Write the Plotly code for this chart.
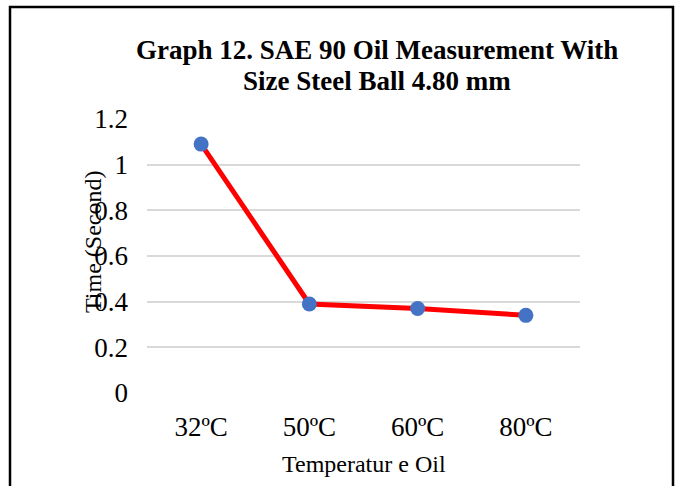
import plotly.graph_objects as go

categories = ["32ºC", "50ºC", "60ºC", "80ºC"]
times = [1.09, 0.39, 0.37, 0.34]
y_ticks = [0, 0.2, 0.4, 0.6, 0.8, 1.0, 1.2]
y_tick_labels = ["0", "0.2", "0.4", "0.6", "0.8", "1", "1.2"]
title_lines = ["Graph 12. SAE 90 Oil Measurement With", "Size Steel Ball 4.80 mm"]

W, H = 675, 486
L, R, T, B = 147, 95, 119, 93
pw, ph = W - L - R, H - T - B

def px(x):
    return (x - L) / pw

def py(y):
    return (H - B - y) / ph

serif = "Liberation Serif, Times New Roman, serif"

fig = go.Figure()
fig.add_trace(go.Scatter(
    x=categories, y=times, mode="lines+markers",
    line=dict(color="#FF0000", width=5),
    marker=dict(color="#4472C4", size=15),
    showlegend=False,
))

title_annots = [
    dict(text="<b>" + t + "</b>", x=px(377), y=py(yc), xref="paper", yref="paper",
         xanchor="center", yanchor="middle", showarrow=False,
         font=dict(size=27, family=serif, color="#000000"))
    for t, yc in zip(title_lines, [50, 81])
]

fig.update_layout(
    width=W, height=H,
    margin=dict(l=L, r=R, t=T, b=B, pad=0),
    paper_bgcolor="white", plot_bgcolor="white",
    font=dict(family=serif, color="#000000"),
    xaxis=dict(
        type="category", showgrid=False, zeroline=False, showline=False,
        ticks="", tickfont=dict(size=27, family=serif, color="#000000"),
        range=[-0.5, 3.5], ticklabelstandoff=15,
    ),
    yaxis=dict(
        range=[0, 1.2], tickvals=y_ticks, ticktext=y_tick_labels,
        showgrid=True, gridcolor="#D9D9D9", gridwidth=1.5,
        zeroline=False, showline=False, ticks="",
        tickfont=dict(size=27, family=serif, color="#000000"),
        ticklabelstandoff=18,
    ),
    annotations=title_annots + [
        dict(text="Temperatur e Oil", x=px(364), y=py(464), xref="paper", yref="paper",
             xanchor="center", yanchor="middle", showarrow=False,
             font=dict(size=24, family=serif, color="#000000")),
        dict(text="Time (Second)", x=px(93), y=py(242), xref="paper", yref="paper",
             xanchor="center", yanchor="middle", showarrow=False, textangle=-90,
             font=dict(size=24, family=serif, color="#000000")),
    ],
    shapes=[
        dict(type="rect", xref="paper", yref="paper",
             x0=px(10), x1=px(673), y0=py(7), y1=py(492),
             line=dict(color="#000000", width=2.5), fillcolor="rgba(0,0,0,0)", layer="below"),
    ],
)

fig.write_html("out.html")
